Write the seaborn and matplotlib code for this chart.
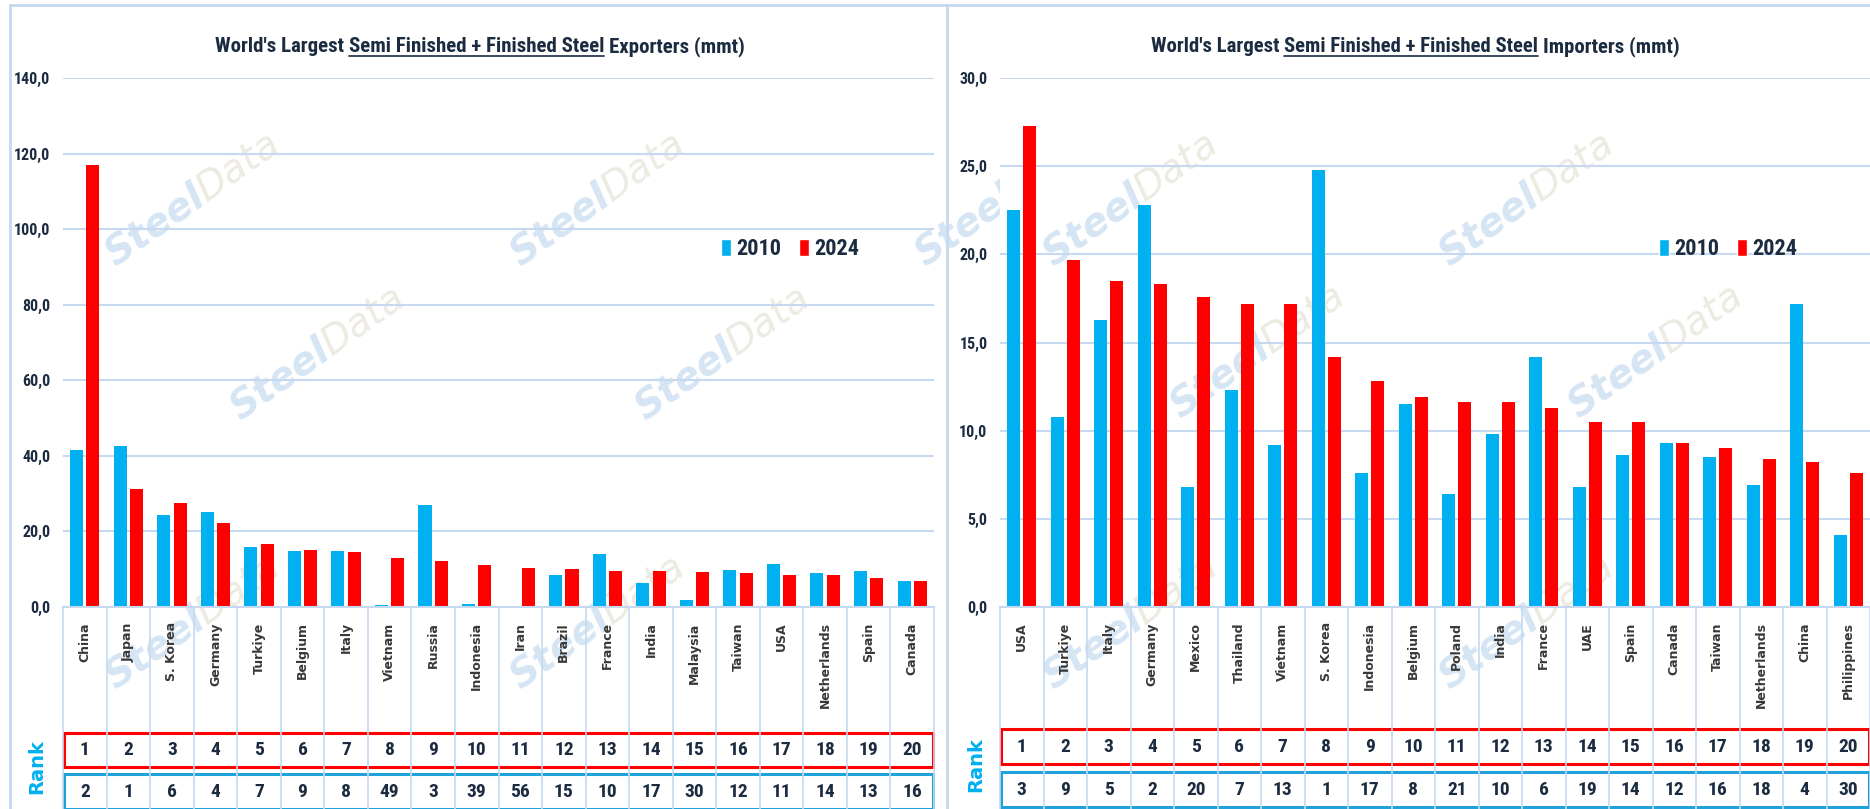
import pandas as pd
import seaborn as sns
import matplotlib.pyplot as plt
from matplotlib.patches import Rectangle, Patch
from matplotlib.lines import Line2D
import warnings
warnings.filterwarnings('ignore')

# Exporters (mmt)
exp_countries = ['China', 'Japan', 'S. Korea', 'Germany', 'Turkiye', 'Belgium', 'Italy', 'Vietnam',
                 'Russia', 'Indonesia', 'Iran', 'Brazil', 'France', 'India', 'Malaysia', 'Taiwan',
                 'USA', 'Netherlands', 'Spain', 'Canada']
exp_2010 = [41.5, 42.5, 24.3, 25.1, 15.9, 14.8, 14.8, 0.4, 27.1, 0.9,
            0.0, 8.6, 13.9, 6.4, 1.9, 9.7, 11.5, 9.0, 9.4, 6.9]
exp_2024 = [116.9, 31.1, 27.6, 22.2, 16.8, 15.2, 14.6, 13.1, 12.1, 11.0,
            10.4, 10.0, 9.4, 9.4, 9.2, 9.0, 8.4, 8.4, 7.7, 6.9]
exp_rank_2024 = list(range(1, 21))
exp_rank_2010 = [2, 1, 6, 4, 7, 9, 8, 49, 3, 39, 56, 15, 10, 17, 30, 12, 11, 14, 13, 16]

# Importers (mmt)
imp_countries = ['USA', 'Turkiye', 'Italy', 'Germany', 'Mexico', 'Thailand', 'Vietnam', 'S. Korea',
                 'Indonesia', 'Belgium', 'Poland', 'India', 'France', 'UAE', 'Spain', 'Canada',
                 'Taiwan', 'Netherlands', 'China', 'Philippines']
imp_2010 = [22.5, 10.8, 16.3, 22.8, 6.8, 12.3, 9.2, 24.8, 7.6, 11.5,
            6.4, 9.8, 14.2, 6.8, 8.6, 9.3, 8.5, 6.9, 17.2, 4.1]
imp_2024 = [27.3, 19.7, 18.5, 18.3, 17.6, 17.2, 17.2, 14.2, 12.8, 11.9,
            11.6, 11.6, 11.3, 10.5, 10.5, 9.3, 9.0, 8.4, 8.2, 7.6]
imp_rank_2024 = list(range(1, 21))
imp_rank_2010 = [3, 9, 5, 2, 20, 7, 13, 1, 17, 8, 21, 10, 6, 19, 14, 12, 16, 18, 4, 30]

years = ['2010', '2024']
colors = {'2010': '#00B0F0', '2024': '#FF0000'}

sns.set_style('white')
NARROW = ['Roboto Condensed', 'Liberation Sans Narrow', 'Liberation Sans', 'DejaVu Sans']
NKW = dict(family=NARROW, fontstretch='condensed', fontweight='bold')
NAVY = '#1B2B40'
GRID = '#C6D9F0'

W, H = 1870, 809
fig = plt.figure(figsize=(W / 100, H / 100), dpi=100)


def px_axes(l, r, top, bottom):
    return fig.add_axes([l / W, 1 - bottom / H, (r - l) / W, (bottom - top) / H])


def long_df(countries, v10, v24):
    return pd.DataFrame({'country': countries * 2,
                         'year': ['2010'] * len(countries) + ['2024'] * len(countries),
                         'value': v10 + v24})


def watermark(ax, spots):
    for cx, cy in spots:
        x, y = (cx + 20) / W, 1 - (cy + 4) / H
        ax.text(x, y, 'Steel', transform=fig.transFigure, rotation=35, rotation_mode='anchor',
                ha='right', va='baseline', fontsize=28, fontweight='heavy', style='italic',
                color='#D5E5F3', zorder=0)
        ax.text(x, y, 'Data', transform=fig.transFigure, rotation=35, rotation_mode='anchor',
                ha='left', va='baseline', fontsize=28, style='italic',
                color='#ECEAE1', zorder=0)


def draw_panel(ax, countries, v10, v24, r24, r10, ymax, step, boxes, spots):
    df = long_df(countries, v10, v24)
    watermark(ax, spots)
    sns.barplot(data=df, x='country', y='value', hue='year', order=countries, hue_order=years,
                palette=colors, saturation=1, width=0.75, gap=0.2, linewidth=0,
                legend=False, ax=ax)
    ax.set_xlim(-0.5, len(countries) - 0.5)
    ax.set_ylim(0, ymax)
    ticks = [step * i for i in range(int(ymax / step) + 1)]
    ax.set_yticks(ticks)
    ax.set_yticklabels([f'{t:.1f}'.replace('.', ',') for t in ticks],
                       fontsize=11.5, color=NAVY, **NKW)
    ax.set_xlabel('')
    ax.set_ylabel('')
    ax.yaxis.grid(True, color=GRID, lw=1.5)
    ax.set_axisbelow(True)
    for s in ['left', 'right', 'top']:
        ax.spines[s].set_visible(False)
    ax.spines['bottom'].set_color(GRID)
    ax.spines['bottom'].set_linewidth(1.5)
    ax.tick_params(axis='y', length=0, pad=9)
    ax.tick_params(axis='x', length=0, pad=11)
    ax.set_xticks(range(len(countries)))
    ax.set_xticklabels(countries, rotation=90, fontsize=9, fontweight='bold', color='#383838',
                       va='top', ha='center')

    # rank table under the axis
    tr = ax.get_xaxis_transform()
    n = len(countries)
    ax.vlines([i - 0.5 for i in range(n + 1)], -0.42, 0, transform=tr, color=GRID, lw=1.2,
              clip_on=False)
    (r_lo, r_hi), (b_lo, b_hi) = boxes
    ax.add_patch(Rectangle((-0.47, r_lo), n - 0.05, r_hi - r_lo, transform=tr, fill=False,
                           ec='#FF0000', lw=2.2, clip_on=False))
    ax.add_patch(Rectangle((-0.47, b_lo), n - 0.05, b_hi - b_lo, transform=tr, fill=False,
                           ec='#1FA2DB', lw=2.2, clip_on=False))
    for i in range(n):
        ax.text(i, (r_lo + r_hi) / 2, str(r24[i]), transform=tr, ha='center', va='center',
                fontsize=14, color=NAVY, clip_on=False, **NKW)
        ax.text(i, (b_lo + b_hi) / 2, str(r10[i]), transform=tr, ha='center', va='center',
                fontsize=14, color=NAVY, clip_on=False, **NKW)

    return [Patch(facecolor=colors[y], label=y) for y in years]


ax1 = px_axes(63, 934, 78, 607)
ax2 = px_axes(1000, 1870, 78, 607)

h = draw_panel(ax1, exp_countries, exp_2010, exp_2024, exp_rank_2024, exp_rank_2010, 140, 20,
               [(-0.302, -0.238), (-0.382, -0.316)],
               [(187, 198), (592, 198), (997, 198), (312, 352), (717, 352), (187, 621), (592, 621)])
draw_panel(ax2, imp_countries, imp_2010, imp_2024, imp_rank_2024, imp_rank_2010, 30, 5,
           [(-0.297, -0.231), (-0.378, -0.312)],
           [(1125, 198), (1521, 198), (1252, 350), (1650, 350), (1125, 621), (1521, 621)])

for cx in [(733 + 847) / 2, (1671 + 1785) / 2]:
    fig.legend(handles=h, loc='center', bbox_to_anchor=(cx / W, 1 - 249 / H), ncol=2,
               frameon=False, handlelength=0.45, handleheight=0.8, handletextpad=0.25,
               columnspacing=0.8, borderpad=0,
               prop=dict(family=NARROW, stretch='condensed', weight='bold', size=16),
               labelcolor=NAVY)

# "Rank" labels
for x, y in [(37, 767), (976, 765)]:
    fig.text(x / W, 1 - y / H, 'Rank', rotation=90, ha='center', va='center',
             fontsize=14, fontweight='bold', color='#00B0F0')

# panel frames
for xs, ys in [([10, W], [5, 5]), ([10, 10], [5, H]), ([947, 947], [5, H])]:
    fig.add_artist(Line2D([x / W for x in xs], [1 - y / H for y in ys], color=GRID, lw=2))

# titles with the underlined middle part, sized to the reference width
fig.canvas.draw()
rend = fig.canvas.get_renderer()


def put_title(cx, y, word, width=530):
    parts = ["World's Largest", 'Semi Finished + Finished Steel', word + ' (mmt)']
    size = 16
    for _ in range(2):
        tkw = dict(fontsize=size, color=NAVY, va='baseline', ha='left', **NKW)
        ts = [fig.text(0, 1 - y / H, p, **tkw) for p in parts]
        a = fig.text(0, 0, 'x x', **tkw)
        b = fig.text(0, 0, 'xx', **tkw)
        space = a.get_window_extent(rend).width - b.get_window_extent(rend).width
        a.remove()
        b.remove()
        ws = [t.get_window_extent(rend).width for t in ts]
        total = sum(ws) + 2 * space
        if abs(total - width) < 8:
            break
        for t in ts:
            t.remove()
        size = min(17, size * width / total)
    x = cx - total / 2
    for i, (t, w) in enumerate(zip(ts, ws)):
        t.set_x(x / W)
        if i == 1:
            fig.add_artist(Line2D([x / W, (x + w) / W], [1 - (y + 4) / H] * 2, color=NAVY, lw=1.2))
        x += w + space


put_title(480, 52, 'Exporters')
put_title(1415, 52, 'Importers')

fig.savefig('out.png', dpi=100, facecolor='white')
